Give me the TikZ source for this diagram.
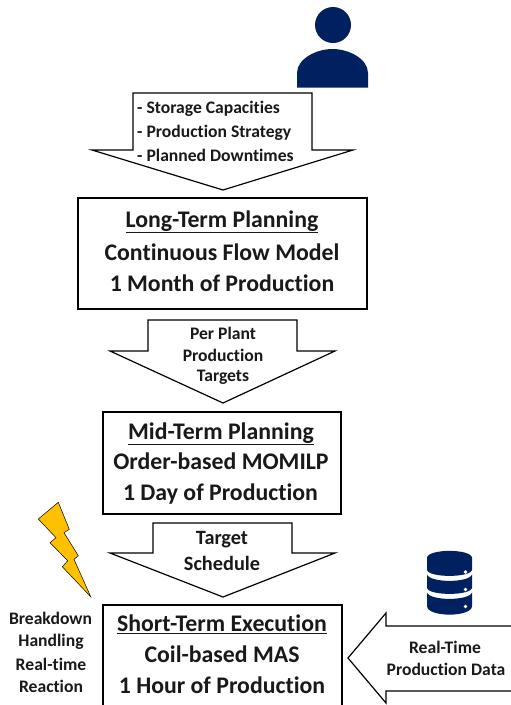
\documentclass[tikz,border=0pt]{standalone}
\usepackage{fontspec}
\setmainfont[Ligatures=CommonOff]{Carlito}
\definecolor{navy}{HTML}{002060}
\definecolor{bolt}{HTML}{FFC000}
\tikzset{
 px/.style={x=1pt,y=-1pt},
 outl/.style={draw=black,line width=1.2pt,line join=miter,fill=white},
 lab/.style={anchor=base,font=\bfseries\fontsize{17.6}{20}\selectfont,align=center,inner sep=0pt,text=black!90},
 mid/.style={anchor=base,font=\bfseries\fontsize{20.3}{22}\selectfont,align=center,inner sep=0pt,text=black!90},
 big/.style={anchor=base,font=\bfseries\fontsize{23.8}{26}\selectfont,align=center,inner sep=0pt,text=black!90},
 dbseg/.style={fill=navy},
}
\begin{document}
\begin{tikzpicture}[px]
\useasboundingbox (0,0) rectangle (511,705);
% person
\fill[navy] (333,25) circle[radius=18];
\fill[navy] (297,87.5) -- (297,73) .. controls (297,59) and (316,49) .. (332.5,49) .. controls (349,49) and (368,59) .. (368,73) -- (368,87.5) -- cycle;
% arrows
\draw[outl] (133,93) -- (312,93) -- (312,150) -- (353,150) -- (223,190) -- (92,150) -- (133,150) -- cycle;
\draw[outl] (148,320) -- (297,320) -- (297,351) -- (335,351) -- (223,403) -- (110,351) -- (148,351) -- cycle;
\draw[outl] (153,523) -- (292,523) -- (292,553) -- (335,553) -- (223,597) -- (110,553) -- (153,553) -- cycle;
\draw[outl] (512,626) -- (386,626) -- (386,613) -- (348,658) -- (386,703) -- (386,691) -- (512,691);
% boxes
\draw[outl] (78,198) rectangle (367,309);
\draw[outl] (103,412) rectangle (341,514);
\draw[outl] (103,605) rectangle (342,708);
% arrow labels
\node[lab,anchor=base west] (a1) at (137,113) {- Storage Capacities};
\node[lab,anchor=base west] (a2) at (137,137.5) {- Production Strategy};
\node[lab,anchor=base west] (a3) at (137,161.5) {- Planned Downtimes};
\node[lab] (p1) at (223,339) {Per Plant};
\node[lab] (p2) at (223,361) {Production};
\node[lab] (p3) at (223,381.5) {Targets};
\node[mid] (s1) at (222,544) {Target};
\node[mid] (s2) at (222,570) {Schedule};
\node[lab] (r1) at (445,653.5) {Real-Time};
\node[lab] (r2) at (446,675.5) {Production Data};
% box labels
\node[big] (b1) at (222,227) {\underline{Long-Term Planning}};
\node[big] (b2) at (222,260) {Continuous Flow Model};
\node[big] (b3) at (222,291) {1 Month of Production};
\node[big] (c1) at (221,439) {\underline{Mid-Term Planning}};
\node[big] (c2) at (221,469) {Order-based MOMILP};
\node[big] (c3) at (220.5,500) {1 Day of Production};
\node[big] (d1) at (222,631.5) {\underline{Short-Term Execution}};
\node[big] (d2) at (222,662) {Coil-based MAS};
\node[big] (d3) at (222,693) {1 Hour of Production};
% side
\node[lab] (e1) at (50.5,624) {Breakdown};
\node[lab] (e2) at (51,646) {Handling};
\node[lab] (e3) at (51,670) {Real-time};
\node[lab] (e4) at (51,692) {Reaction};
% bolt
\draw[fill=bolt,draw=black,line width=0.5pt,line join=miter] (58.3,502.3) -- (69.3,529.3) -- (64,532.7) -- (78.3,555.7) -- (74,559.3) -- (90.7,596.7) -- (62.3,566.7) -- (67.7,560.7) -- (50,542.7) -- (56,537.7) -- (38.3,519) -- cycle;
% database
\fill[dbseg] (427,558) .. controls (427,548.5) and (472,548.5) .. (472,558) -- (472,569.5) .. controls (472,578) and (427,578) .. (427,569.5) -- cycle;
\fill[dbseg] (427,574.5) .. controls (430,583) and (469,583) .. (472,574.5) -- (472,587.5) .. controls (472,596) and (427,596) .. (427,587.5) -- cycle;
\fill[dbseg] (427,592.5) .. controls (430,601) and (469,601) .. (472,592.5) -- (472,606) .. controls (472,617.5) and (427,617.5) .. (427,606) -- cycle;
\fill[white] (465.5,572) circle[radius=1.8] (465.5,589.5) circle[radius=1.8] (465.5,606.5) circle[radius=1.8];
\end{tikzpicture}
\end{document}
